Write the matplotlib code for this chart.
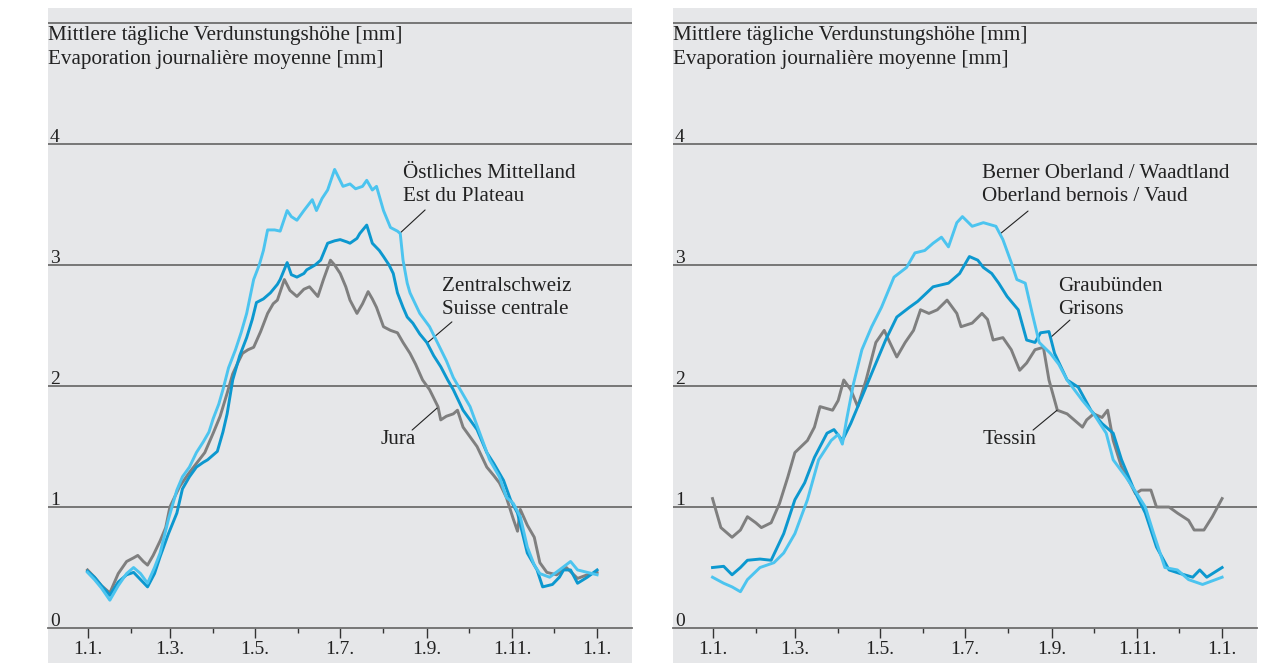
import matplotlib.pyplot as plt

# --- Daten: Tag im Jahr (0 = 1.1.) und mittlere tägliche Verdunstung [mm] ---

# linke Grafik
ost_tage = [0, 5, 10, 16, 22, 28, 33, 38, 43, 48, 52, 58, 64, 68, 73, 78, 83, 87, 90, 94,
            97, 101, 106, 110, 114, 119, 123, 126, 129, 134, 138, 143, 146, 150, 155, 161,
            164, 168, 172, 177, 180, 183, 188, 192, 197, 200, 204, 207, 212, 217, 222, 224,
            226, 229, 231, 238, 245, 251, 257, 262, 267, 274, 281, 288, 295, 300, 305, 310,
            315, 320, 324, 331, 338, 346, 351, 358, 365]
ost_werte = [0.46, 0.40, 0.33, 0.23, 0.35, 0.45, 0.50, 0.45, 0.37, 0.50, 0.62, 0.90, 1.14,
             1.25, 1.33, 1.45, 1.54, 1.62, 1.73, 1.85, 1.97, 2.15, 2.30, 2.44, 2.60, 2.88,
             3.00, 3.12, 3.29, 3.29, 3.28, 3.45, 3.40, 3.37, 3.45, 3.54, 3.45, 3.55, 3.62,
             3.79, 3.72, 3.65, 3.67, 3.63, 3.65, 3.70, 3.62, 3.65, 3.45, 3.31, 3.28, 3.26,
             3.04, 2.85, 2.77, 2.60, 2.49, 2.35, 2.21, 2.07, 1.97, 1.83, 1.61, 1.39, 1.25,
             1.08, 1.03, 0.92, 0.67, 0.52, 0.45, 0.42, 0.48, 0.55, 0.48, 0.46, 0.44]

zent_tage = [0, 5, 10, 16, 22, 28, 33, 38, 43, 48, 52, 58, 64, 68, 73, 78, 83, 86, 90, 93,
             97, 100, 104, 109, 114, 118, 121, 126, 131, 136, 138, 143, 146, 150, 155, 157,
             163, 167, 172, 177, 181, 186, 188, 193, 195, 200, 204, 209, 212, 216, 219, 222,
             226, 229, 233, 238, 243, 248, 253, 258, 262, 269, 274, 279, 286, 291, 298, 303,
             308, 315, 322, 326, 333, 338, 341, 346, 351, 358, 365]
zent_werte = [0.47, 0.42, 0.35, 0.27, 0.38, 0.44, 0.46, 0.40, 0.34, 0.45, 0.59, 0.78, 0.95,
              1.15, 1.25, 1.33, 1.37, 1.39, 1.43, 1.46, 1.62, 1.77, 2.05, 2.25, 2.40, 2.55,
              2.69, 2.72, 2.77, 2.84, 2.88, 3.02, 2.92, 2.90, 2.93, 2.96, 3.00, 3.04, 3.18,
              3.20, 3.21, 3.19, 3.18, 3.22, 3.26, 3.33, 3.18, 3.12, 3.07, 3.00, 2.93, 2.77,
              2.65, 2.57, 2.52, 2.43, 2.36, 2.25, 2.16, 2.05, 1.97, 1.80, 1.72, 1.64, 1.45,
              1.36, 1.22, 1.06, 0.95, 0.62, 0.48, 0.34, 0.36, 0.42, 0.48, 0.48, 0.37, 0.42, 0.48]

jura_tage = [0, 5, 10, 16, 22, 28, 33, 36, 40, 43, 47, 52, 56, 59, 66, 72, 78, 84, 90, 95,
             100, 104, 108, 111, 115, 119, 124, 129, 133, 136, 141, 145, 150, 155, 159, 162,
             165, 169, 174, 177, 181, 185, 188, 193, 197, 201, 204, 207, 212, 217, 222, 226,
             231, 235, 240, 245, 251, 253, 257, 262, 265, 269, 274, 279, 286, 291, 295, 300,
             305, 308, 310, 315, 320, 324, 329, 336, 343, 351, 358, 365]
jura_werte = [0.48, 0.42, 0.35, 0.29, 0.45, 0.55, 0.58, 0.60, 0.55, 0.52, 0.60, 0.72, 0.83,
              1.00, 1.17, 1.27, 1.36, 1.45, 1.61, 1.75, 1.94, 2.10, 2.20, 2.27, 2.30, 2.32,
              2.45, 2.60, 2.68, 2.71, 2.88, 2.79, 2.74, 2.80, 2.82, 2.78, 2.74, 2.88, 3.04,
              3.00, 2.93, 2.82, 2.71, 2.60, 2.68, 2.78, 2.72, 2.65, 2.49, 2.46, 2.44, 2.36,
              2.27, 2.18, 2.05, 1.97, 1.83, 1.72, 1.75, 1.77, 1.80, 1.66, 1.58, 1.50, 1.33,
              1.26, 1.20, 1.08, 0.90, 0.80, 0.98, 0.85, 0.75, 0.54, 0.46, 0.44, 0.50, 0.41,
              0.44, 0.46]

# rechte Grafik
bern_tage = [0, 8, 14, 20, 25, 34, 44, 51, 59, 68, 76, 85, 90, 93, 96, 101, 107, 114, 121,
             130, 139, 145, 152, 158, 164, 169, 175, 179, 186, 194, 203, 208, 214, 218, 224,
             229, 234, 242, 248, 254, 265, 273, 282, 287, 296, 304, 310, 316, 324, 333, 341,
             351, 358, 365]
bern_werte = [0.42, 0.37, 0.34, 0.30, 0.40, 0.50, 0.54, 0.62, 0.78, 1.06, 1.39, 1.55, 1.60,
              1.52, 1.72, 2.02, 2.30, 2.49, 2.65, 2.90, 2.98, 3.10, 3.12, 3.18, 3.23, 3.15,
              3.35, 3.40, 3.32, 3.35, 3.32, 3.21, 3.02, 2.88, 2.85, 2.60, 2.36, 2.27, 2.18,
              2.05, 1.88, 1.77, 1.61, 1.39, 1.25, 1.11, 1.00, 0.78, 0.50, 0.48, 0.40, 0.36,
              0.39, 0.42]

grau_tage = [0, 8, 14, 20, 25, 34, 42, 51, 59, 66, 73, 82, 87, 93, 99, 107, 116, 124, 132,
             141, 147, 158, 169, 177, 184, 190, 194, 200, 205, 211, 219, 225, 231, 235, 241,
             245, 254, 262, 271, 279, 287, 293, 302, 310, 318, 327, 335, 344, 349, 354, 365]
grau_werte = [0.50, 0.51, 0.44, 0.50, 0.56, 0.57, 0.56, 0.78, 1.06, 1.20, 1.41, 1.61, 1.64,
              1.55, 1.69, 1.91, 2.16, 2.38, 2.57, 2.65, 2.70, 2.82, 2.85, 2.93, 3.07, 3.04,
              2.98, 2.93, 2.85, 2.74, 2.63, 2.38, 2.36, 2.44, 2.45, 2.27, 2.05, 1.99, 1.80,
              1.69, 1.61, 1.39, 1.14, 0.95, 0.67, 0.48, 0.45, 0.42, 0.48, 0.42, 0.50]

tess_tage = [0, 6, 14, 20, 25, 31, 35, 42, 48, 54, 59, 68, 73, 77, 86, 90, 94, 99, 104, 110,
             117, 123, 127, 132, 138, 144, 149, 155, 161, 168, 175, 178, 186, 193, 197, 201,
             208, 214, 220, 225, 231, 237, 241, 247, 254, 259, 265, 268, 273, 279, 283, 287,
             293, 299, 303, 307, 314, 318, 327, 333, 341, 345, 352, 358, 365]
tess_werte = [1.07, 0.83, 0.75, 0.81, 0.92, 0.87, 0.83, 0.87, 1.03, 1.25, 1.45, 1.55, 1.66,
              1.83, 1.80, 1.88, 2.05, 1.97, 1.83, 2.05, 2.36, 2.46, 2.36, 2.24, 2.36, 2.46,
              2.63, 2.60, 2.63, 2.71, 2.60, 2.49, 2.52, 2.60, 2.55, 2.38, 2.40, 2.30, 2.13,
              2.19, 2.30, 2.32, 2.05, 1.80, 1.77, 1.72, 1.66, 1.72, 1.77, 1.74, 1.80, 1.55,
              1.33, 1.20, 1.11, 1.14, 1.14, 1.00, 1.00, 0.95, 0.89, 0.81, 0.81, 0.92, 1.07]

monatsanfang = [0, 31, 59, 90, 120, 151, 181, 212, 243, 273, 304, 334, 365]
beschriftung = ["1.1.", "1.3.", "1.5.", "1.7.", "1.9.", "1.11.", "1.1."]
y_werte = [0, 1, 2, 3, 4]

hellblau = "#4cc4ef"
blau = "#0c98cf"
grau = "#7f7f7f"
hintergrund = "#e6e7e9"
linienfarbe = "#6e6e6e"
textfarbe = "#222222"

plt.rcParams['font.family'] = ['Liberation Serif', 'DejaVu Serif']
schrift = 15.2

fig = plt.figure(figsize=(12.73, 6.63), dpi=100)
breite = 584 / 1273
ax1 = fig.add_axes([48 / 1273, 0, breite, 655 / 663])
ax2 = fig.add_axes([673 / 1273, 0, breite, 655 / 663])


def achse_einrichten(ax):
    ax.set_facecolor(hintergrund)
    ax.set_xlim(-28.3, 390.0)
    ax.set_ylim(-0.289, 5.124)
    for s in ['top', 'right', 'left']:
        ax.spines[s].set_visible(False)
    ax.spines['bottom'].set_position(('data', 0))
    ax.spines['bottom'].set_color(linienfarbe)
    ax.spines['bottom'].set_linewidth(1.3)
    for y in y_werte[1:] + [5]:
        ax.axhline(y, color=linienfarbe, lw=1.3, zorder=1)
    ax.set_xticks(monatsanfang[::2])
    ax.set_xticklabels(beschriftung, fontsize=14)
    ax.set_xticks(monatsanfang[1::2], minor=True)
    ax.tick_params(axis='x', which='major', direction='out', length=7, width=1,
                   color='#333333', pad=2, labelcolor=textfarbe)
    ax.tick_params(axis='x', which='minor', direction='out', length=3.5, width=1,
                   color='#333333')
    ax.set_yticks([])
    tr = ax.get_yaxis_transform()
    for y in y_werte:
        ax.text(0.003, y - 0.018, str(y), transform=tr, fontsize=14,
                ha='left', va='bottom', color=textfarbe)
    ax.text(0.0, 4.895, "Mittlere tägliche Verdunstungshöhe [mm]", transform=tr,
            fontsize=schrift, ha='left', va='center', color=textfarbe)
    ax.text(0.0, 4.695, "Evaporation journalière moyenne [mm]", transform=tr,
            fontsize=schrift, ha='left', va='center', color=textfarbe)


def beschriften(ax, text, x, y, ha='left'):
    ax.text(x, y, text, fontsize=schrift, ha=ha, va='center', color=textfarbe,
            linespacing=1.28)


def leitlinie(ax, von, bis):
    ax.annotate('', xy=bis, xytext=von,
                arrowprops=dict(arrowstyle='-', lw=0.8, color=textfarbe,
                                shrinkA=0, shrinkB=0))


achse_einrichten(ax1)
achse_einrichten(ax2)

ax1.plot(jura_tage, jura_werte, color=grau, lw=2.1, zorder=3)
ax1.plot(zent_tage, zent_werte, color=blau, lw=2.1, zorder=4)
ax1.plot(ost_tage, ost_werte, color=hellblau, lw=2.1, zorder=5)

beschriften(ax1, "Östliches Mittelland\nEst du Plateau", 226, 3.665)
leitlinie(ax1, (241.8, 3.455), (223.9, 3.264))
beschriften(ax1, "Zentralschweiz\nSuisse centrale", 253.9, 2.73)
leitlinie(ax1, (261, 2.53), (243.2, 2.355))
beschriften(ax1, "Jura", 222.4, 1.56, ha='center')
leitlinie(ax1, (232.5, 1.636), (250.4, 1.818))

ax2.plot(tess_tage, tess_werte, color=grau, lw=2.1, zorder=3)
ax2.plot(grau_tage, grau_werte, color=blau, lw=2.1, zorder=4)
ax2.plot(bern_tage, bern_werte, color=hellblau, lw=2.1, zorder=5)

beschriften(ax2, "Berner Oberland / Waadtland\nOberland bernois / Vaud", 193, 3.665)
leitlinie(ax2, (226, 3.446), (206.7, 3.264))
beschriften(ax2, "Graubünden\nGrisons", 247.5, 2.73)
leitlinie(ax2, (256, 2.545), (242.5, 2.405))
beschriften(ax2, "Tessin", 212.4, 1.56, ha='center')
leitlinie(ax2, (229.6, 1.636), (246.8, 1.80))

fig.savefig("out.png", dpi=100)
